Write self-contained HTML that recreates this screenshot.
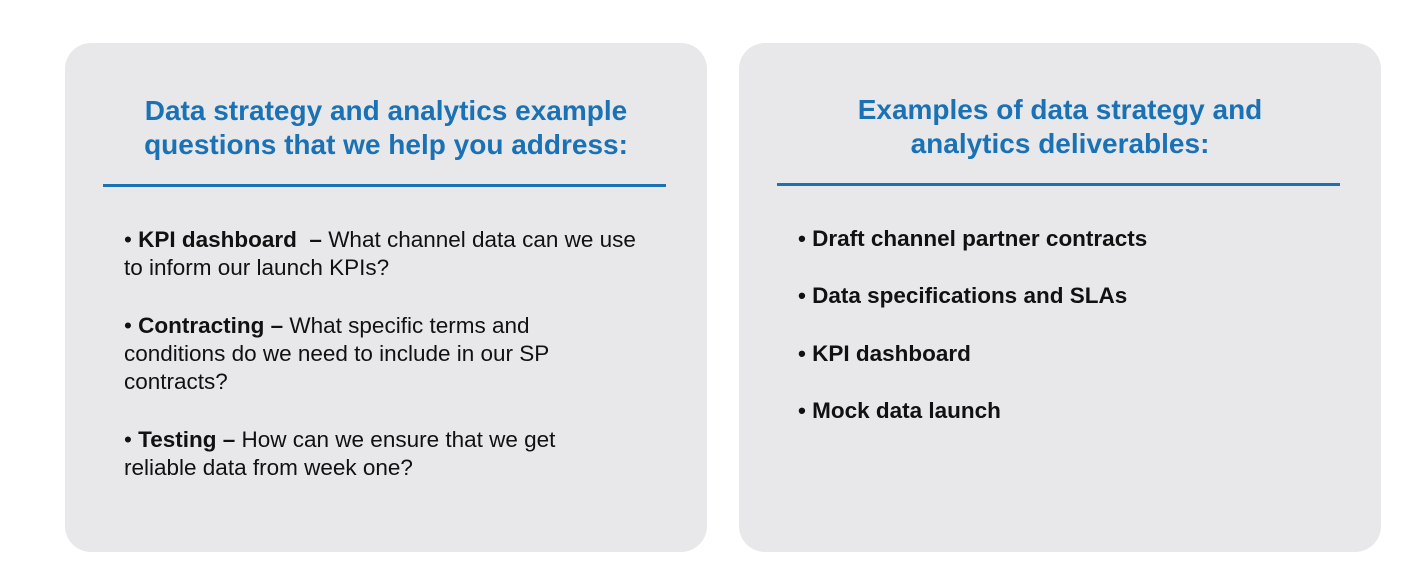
<!DOCTYPE html>
<html><head><meta charset="utf-8"><style>
html,body{margin:0;padding:0;background:#fff;}
body{width:1425px;height:588px;position:relative;overflow:hidden;font-family:"Liberation Sans",sans-serif;}
.box{position:absolute;top:43px;width:642px;height:509px;background:#e8e8ea;border-radius:26px;}
.t{position:absolute;color:#1a72b5;font-size:28px;font-weight:bold;text-align:center;white-space:nowrap;line-height:34px;}
.rule{position:absolute;height:3px;background:#1a72b5;}
.p{position:absolute;font-size:22.5px;line-height:28px;color:#111;white-space:nowrap;}
b{font-weight:bold;}
</style></head><body>
<div class="box" style="left:65px"></div>
<div class="box" style="left:739px"></div>

<div class="t" style="left:65px;width:642px;top:94px">Data strategy and analytics example<br>questions that we help you address:</div>
<div class="rule" style="left:103px;width:563px;top:184px"></div>

<div class="p" style="left:124px;top:226px">• <b>KPI dashboard&nbsp; –</b> What channel data can we use<br>to inform our launch KPIs?</div>
<div class="p" style="left:124px;top:312px">• <b>Contracting –</b> What specific terms and<br>conditions do we need to include in our SP<br>contracts?</div>
<div class="p" style="left:124px;top:426px">• <b>Testing –</b> How can we ensure that we get<br>reliable data from week one?</div>

<div class="t" style="left:739px;width:642px;top:93px">Examples of data strategy and<br>analytics deliverables:</div>
<div class="rule" style="left:777px;width:563px;top:183px"></div>

<div class="p" style="left:798px;top:225px"><b>• Draft channel partner contracts</b></div>
<div class="p" style="left:798px;top:282px"><b>• Data specifications and SLAs</b></div>
<div class="p" style="left:798px;top:340px"><b>• KPI dashboard</b></div>
<div class="p" style="left:798px;top:397px"><b>• Mock data launch</b></div>
</body></html>
